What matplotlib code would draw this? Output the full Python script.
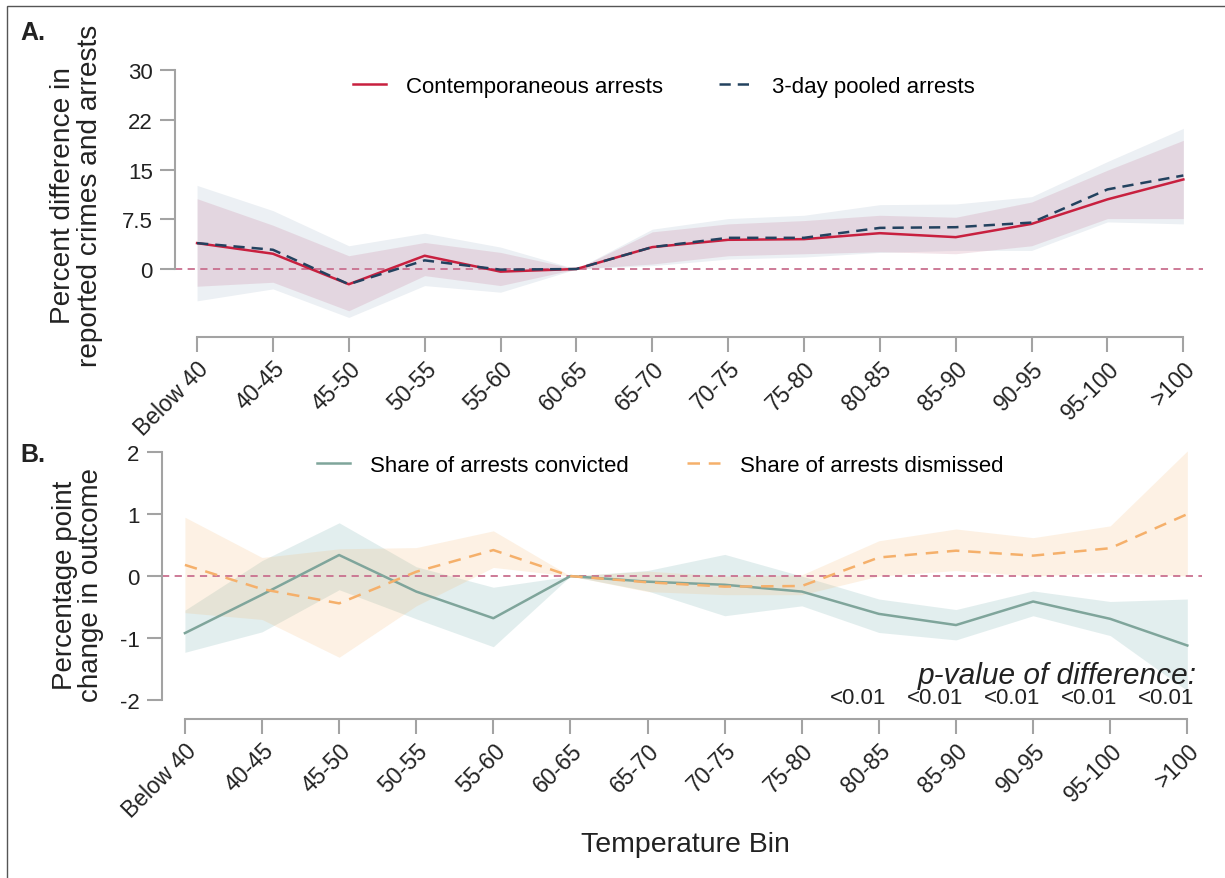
import matplotlib
matplotlib.use("Agg")
import matplotlib.pyplot as plt
import matplotlib.patches as ptc
import numpy as np

plt.rcParams['font.family'] = ['Liberation Sans', 'DejaVu Sans']

# temperature bins
bins = ['Below 40', '40-45', '45-50', '50-55', '55-60', '60-65', '65-70',
        '70-75', '75-80', '80-85', '85-90', '90-95', '95-100', '>100']

# panel A: percent difference in reported crimes and arrests
contemp = [3.9, 2.3, -2.3, 2.0, -0.4, 0, 3.3, 4.4, 4.5, 5.4, 4.8, 6.8, 10.5, 13.5]
contemp_lo = [-2.6, -2.0, -6.3, -1.0, -2.5, 0, 0.75, 2.0, 2.3, 2.6, 2.3, 3.5, 7.6, 7.6]
contemp_hi = [10.6, 6.6, 2.0, 4.0, 2.5, 0, 5.6, 6.8, 7.3, 8.1, 7.8, 10.1, 14.9, 19.4]
pooled = [3.9, 2.9, -2.3, 1.3, -0.1, 0, 3.3, 4.7, 4.7, 6.2, 6.3, 7.0, 12.0, 14.1]
pooled_lo = [-4.8, -3.0, -7.3, -2.5, -3.5, 0, 0.5, 1.5, 1.8, 2.5, 2.8, 2.8, 7.1, 6.8]
pooled_hi = [12.6, 8.8, 3.5, 5.4, 3.3, 0, 6.0, 7.6, 8.1, 9.7, 9.8, 10.9, 16.2, 21.2]
a_ticks = [0, 7.5, 15, 22.5, 30]
a_ticklabels = ['0', '7.5', '15', '22', '30']

# panel B: percentage point change in outcome
convicted = [-0.92, -0.3, 0.34, -0.25, -0.68, 0, -0.09, -0.14, -0.25, -0.61, -0.79, -0.41, -0.69, -1.12]
conv_lo = [-1.23, -0.9, -0.22, -0.69, -1.14, 0, -0.24, -0.64, -0.48, -0.91, -1.03, -0.64, -0.96, -1.85]
conv_hi = [-0.55, 0.25, 0.86, 0.15, -0.18, 0, 0.09, 0.35, 0.0, -0.37, -0.54, -0.24, -0.41, -0.37]
dismissed = [0.18, -0.21, -0.44, 0.07, 0.42, 0, -0.1, -0.17, -0.16, 0.30, 0.41, 0.33, 0.45, 1.0]
dism_lo = [-0.59, -0.7, -1.31, -0.48, 0.14, 0, -0.25, -0.3, -0.3, 0.0, 0.09, 0.0, 0.06, 0.0]
dism_hi = [0.95, 0.3, 0.44, 0.46, 0.73, 0, 0.08, 0.0, 0.02, 0.57, 0.76, 0.62, 0.81, 2.02]
b_ticks = [-2, -1, 0, 1, 2]
pval_bins = [9, 10, 11, 12, 13]
pvals = ['<0.01', '<0.01', '<0.01', '<0.01', '<0.01']

x = np.arange(len(bins))
grey = '#a3a3a3'
zero_col = '#c9708f'
ink = '#222222'

fig = plt.figure(figsize=(12.25, 8.79), dpi=100)
fig.patches.append(ptc.Rectangle((0.006, -0.1), 1.2, 1.092, transform=fig.transFigure,
                                 fill=False, edgecolor='#555555', linewidth=1.0))


def style_axes(ax, ylo, yhi):
    for s in ['top', 'right']:
        ax.spines[s].set_visible(False)
    for s in ['left', 'bottom']:
        ax.spines[s].set_color(grey)
        ax.spines[s].set_linewidth(1.5)
    ax.spines['left'].set_bounds(ylo, yhi)
    ax.spines['bottom'].set_bounds(0, len(bins) - 1)
    ax.tick_params(axis='both', colors=grey, width=1.5, length=11, labelcolor=ink,
                   labelsize=16)
    ax.tick_params(axis='y', pad=5)
    ax.tick_params(axis='x', pad=3, labelsize=16.5)
    ax.set_xticks(x)
    ax.set_xticklabels(bins, rotation=45, ha='right', rotation_mode='anchor')


# ---- panel A
axA = fig.add_axes([0.1429, 0.6155, 0.8392, 0.3071])
axA.fill_between(x, pooled_lo, pooled_hi, color='#ecf0f4', linewidth=0)
axA.fill_between(x, contemp_lo, contemp_hi, color='#b8547a', alpha=0.16, linewidth=0)
axA.axhline(0, color=zero_col, lw=1.3, ls=(0, (4, 3)))
axA.plot(x, contemp, color='#c8203f', lw=1.8, label='Contemporaneous arrests')
axA.plot(x, pooled, color='#23425f', lw=1.8, ls=(0, (4.5, 2.8)), label='3-day pooled arrests')
axA.set_xlim(-0.29, 13.26)
axA.set_ylim(-10.25, 30.45)
style_axes(axA, 0, 30)
axA.set_yticks(a_ticks)
axA.set_yticklabels(a_ticklabels)
axA.legend(loc='center left', bbox_to_anchor=(353 / 1225, 1 - 87 / 879),
           bbox_transform=fig.transFigure, ncol=2, frameon=False, fontsize=16,
           handlelength=1.5, handletextpad=0.9, columnspacing=2.5, borderpad=0,
           borderaxespad=0)

# ---- panel B
axB = fig.add_axes([0.1322, 0.1809, 0.849, 0.3071])
axB.fill_between(x, conv_lo, conv_hi, color='#7fb3b3', alpha=0.22, linewidth=0)
axB.fill_between(x, dism_lo, dism_hi, color='#f5b56a', alpha=0.18, linewidth=0)
axB.axhline(0, color=zero_col, lw=1.3, ls=(0, (4, 3)))
axB.plot(x, convicted, color='#7fa59b', lw=1.8, label='Share of arrests convicted')
axB.plot(x, dismissed, color='#f5b06b', lw=1.8, ls=(0, (5, 3.5)), label='Share of arrests dismissed')
axB.set_xlim(-0.298, 13.19)
axB.set_ylim(-2.306, 2.05)
style_axes(axB, -2, 2)
axB.set_yticks(b_ticks)
axB.set_yticklabels([str(t) for t in b_ticks])
axB.legend(loc='center left', bbox_to_anchor=(317 / 1225, 1 - 466 / 879),
           bbox_transform=fig.transFigure, ncol=2, frameon=False, fontsize=16,
           handlelength=1.5, handletextpad=0.9, columnspacing=2.6, borderpad=0,
           borderaxespad=0)

axB.text(13.12, -1.72, 'p-value of difference:', style='italic', fontsize=21.5,
         ha='right', va='baseline', color=ink)
for i, p in zip(pval_bins, pvals):
    axB.text(i - 0.27, -1.96, p, fontsize=16, ha='center', va='center', color=ink)

# labels
fig.text(77 / 1225, 1 - 196 / 879, 'Percent difference in\nreported crimes and arrests',
         rotation=90, ha='center', va='center', fontsize=20.2, linespacing=1.05, color=ink)
fig.text(78 / 1225, 1 - 585 / 879, 'Percentage point\nchange in outcome',
         rotation=90, ha='center', va='center', fontsize=20, linespacing=1.05, color=ink)
fig.text(685 / 1225, 1 - 845 / 879, 'Temperature Bin', ha='center', va='center',
         fontsize=20.5, color=ink)
fig.text(33 / 1225, 1 - 33 / 879, 'A.', ha='center', va='center', fontsize=18,
         fontweight='bold', color=ink)
fig.text(33 / 1225, 1 - 455 / 879, 'B.', ha='center', va='center', fontsize=18,
         fontweight='bold', color=ink)

fig.savefig('out.png', dpi=100)
